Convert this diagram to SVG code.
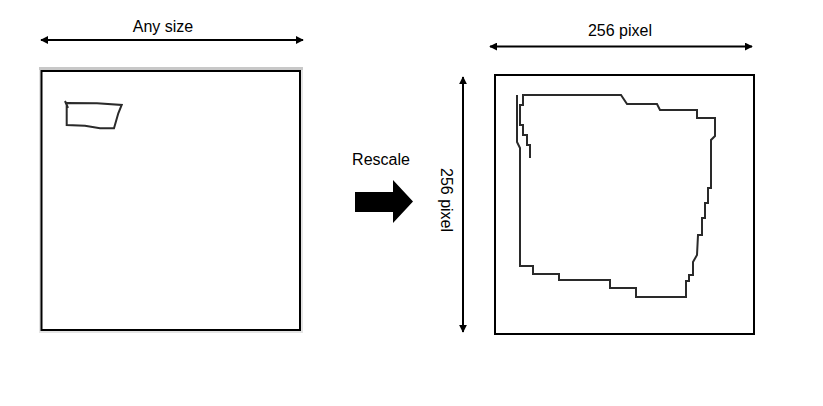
<svg xmlns="http://www.w3.org/2000/svg" width="823" height="406" viewBox="0 0 823 406">
<style>
  text { font-family: "Liberation Sans", Arial, sans-serif; font-size: 16px; fill: #000; }
  .dim { stroke: #000; stroke-width: 2; fill: none; marker-start: url(#ah); marker-end: url(#ah); }
  .sketch { fill: none; stroke: #2a2a2a; stroke-width: 2; stroke-linejoin: miter; }
</style>
<defs>
  <marker id="ah" viewBox="0 0 10 10" refX="9" refY="5" markerWidth="4" markerHeight="4" orient="auto-start-reverse" markerUnits="strokeWidth">
    <path d="M0,0 L10,5 L0,10 Z" fill="#000"/>
  </marker>
</defs>
<rect width="823" height="406" fill="#fff"/>

<g id="original-image">
  <rect x="39" y="67" width="264" height="266" fill="#e4e4e4"/>
  <rect x="39" y="67" width="264" height="3" fill="#c8c8c8"/>
  <rect x="41.5" y="71" width="258.5" height="259" fill="#fff" stroke="#000" stroke-width="2"/>
  <path class="sketch" d="M65,101 L68,108 M66.7,103 L97,103.3 L121.7,105 L118.3,113.3 L114,128.3 L100,128.3 L85,125.7 L66.7,125 Z"/>
</g>

<g id="rescaled-image">
  <rect x="495" y="75" width="259" height="259" fill="#fff" stroke="#000" stroke-width="2"/>
  <path class="sketch" d="M530,158 L530,145 L527,145 L527,135 L523,135 L523,125 L520,125 L520,105 L523,105 L523,95 L621,95 L627,104 L657,104 L660,110 L697,110 L697,118 L715,118 L715,136 L711,140 L711,188 L708,188 L708,203 L705,203 L705,218 L702,218 L702,235 L698,235 L697,255 L693,262 L693,275 L689,275 L689,281 L686,281 L686,297 L636,297 L636,288 L610,288 L610,280 L559,280 L559,274 L533,274 L533,266 L520,266 L520,148 L517,142 L517,95"/>
</g>

<g id="rescale-arrow">
  <path d="M355,192 L393,192 L393,180 L413,201.5 L393,223 L393,212 L355,212 Z" fill="#000"/>
  <text x="381" y="165" text-anchor="middle">Rescale</text>
</g>

<g id="connectors">
  <line class="dim" x1="41" y1="40" x2="303" y2="40"/>
  <line class="dim" x1="490" y1="46.5" x2="752" y2="46.5"/>
  <line class="dim" x1="463" y1="77" x2="463" y2="332"/>
</g>

<g id="labels">
  <text x="163" y="32" text-anchor="middle">Any size</text>
  <text x="620" y="36" text-anchor="middle">256 pixel</text>
  <text transform="translate(441,200) rotate(90)" text-anchor="middle">256 pixel</text>
</g>
</svg>
